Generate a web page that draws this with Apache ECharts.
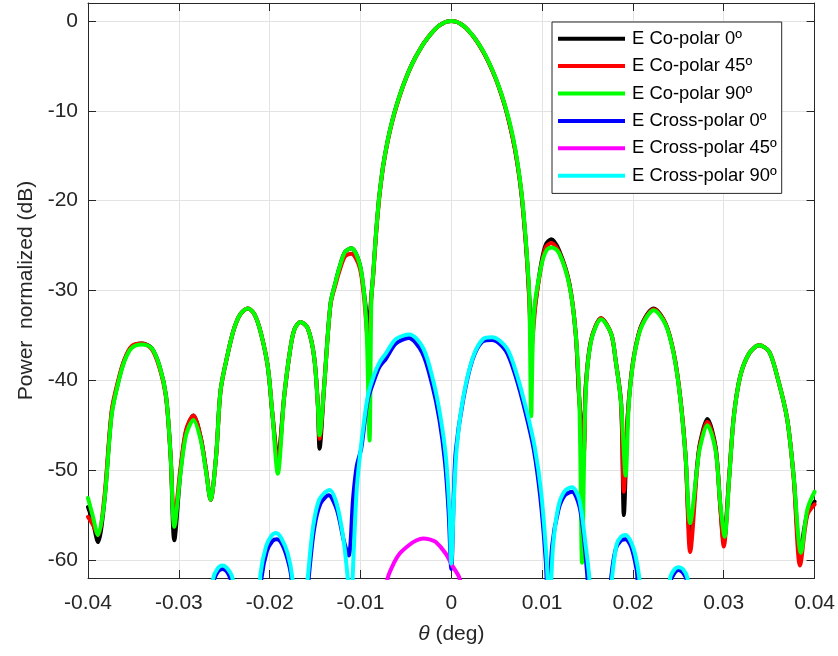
<!DOCTYPE html>
<html>
<head>
<meta charset="UTF-8">
<title>Power normalized</title>
<script src="https://cdn.jsdelivr.net/npm/echarts@6.0.0/dist/echarts.min.js"></script>
<style>
    html, body { margin: 0; padding: 0; background: #fff; }
    #chart { width: 838px; height: 656px; }
</style>
</head>
<body>
<div id="chart"></div>
<script>
// tick values
const yTicks = [0, -10, -20, -30, -40, -50, -60];

const seriesNames = [
    'E Co-polar 0º', 'E Co-polar 45º', 'E Co-polar 90º',
    'E Cross-polar 0º', 'E Cross-polar 45º', 'E Cross-polar 90º'
];
const seriesColors = ['#000000', '#ff0000', '#00ff00', '#0000ff', '#ff00ff', '#00ffff'];

// [theta (deg), power (dB)]
const coPolar0 = [
    [-0.0400, -54.1], [-0.0395, -55.6], [-0.0389, -58.0], [-0.0382, -53.5], [-0.0374, -43.7],
    [-0.0367, -40.3], [-0.0360, -37.8], [-0.0352, -36.3], [-0.0341, -35.9], [-0.0330, -36.4],
    [-0.0321, -38.5], [-0.0314, -41.8], [-0.0309, -48.5], [-0.0305, -57.8], [-0.0298, -50.0],
    [-0.0292, -45.7], [-0.0284, -43.9], [-0.0276, -46.3], [-0.0270, -50.0], [-0.0265, -53.3],
    [-0.0259, -48.5], [-0.0254, -41.1], [-0.0246, -37.0], [-0.0239, -34.2], [-0.0232, -32.6],
    [-0.0224, -32.0], [-0.0217, -32.6], [-0.0210, -34.6], [-0.0202, -38.5], [-0.0197, -43.7],
    [-0.0191, -48.7], [-0.0184, -41.8], [-0.0178, -37.0], [-0.0173, -34.4], [-0.0166, -33.5],
    [-0.0158, -34.2], [-0.0151, -37.4], [-0.0147, -42.6], [-0.0145, -47.6], [-0.0140, -40.7],
    [-0.0133, -31.5], [-0.0127, -28.9], [-0.0123, -27.4], [-0.0117, -25.7], [-0.0110, -25.3],
    [-0.0101, -27.0], [-0.0096, -30.3], [-0.0091, -34.0], [-0.0088, -30.5], [-0.0086, -28.2],
    [-0.0083, -23.8], [-0.0080, -20.2], [-0.0078, -18.4], [-0.0075, -16.1], [-0.0070, -13.3],
    [-0.0065, -11.1], [-0.0060, -9.3], [-0.0055, -7.75], [-0.0050, -6.4], [-0.0045, -5.2],
    [-0.0040, -4.15], [-0.0035, -3.25], [-0.0030, -2.45], [-0.0025, -1.75], [-0.0020, -1.15],
    [-0.0015, -0.65], [-0.0010, -0.3], [-0.0005, -0.08], [0.0000, 0.0], [0.0005, -0.08],
    [0.0010, -0.3], [0.0015, -0.67], [0.0020, -1.2], [0.0025, -1.82], [0.0030, -2.55],
    [0.0035, -3.4], [0.0040, -4.35], [0.0045, -5.45], [0.0050, -6.7], [0.0055, -8.15],
    [0.0060, -9.8], [0.0065, -11.8], [0.0070, -14.2], [0.0074, -16.7], [0.0077, -19.0],
    [0.0079, -21.0], [0.0082, -24.6], [0.0084, -27.5], [0.0086, -31.0], [0.0088, -34.8],
    [0.0093, -31.1], [0.0099, -27.0], [0.0104, -24.9], [0.0110, -24.3],
    [0.0119, -25.6], [0.0130, -29.2], [0.0137, -34.8], [0.0141, -42.2], [0.0146, -47.0],
    [0.0148, -40.7], [0.0154, -35.5], [0.0165, -33.1], [0.0176, -34.8], [0.0181, -37.8],
    [0.0187, -42.6], [0.0190, -55.0], [0.0194, -44.4], [0.0198, -39.6], [0.0203, -36.3],
    [0.0210, -33.7], [0.0223, -32.0], [0.0236, -33.7], [0.0245, -37.0], [0.0252, -41.8],
    [0.0258, -48.5], [0.0263, -57.5], [0.0271, -49.2], [0.0274, -46.9], [0.0282, -44.3],
    [0.0291, -47.4], [0.0296, -53.7], [0.0300, -58.0], [0.0306, -50.7], [0.0311, -44.1],
    [0.0318, -39.6], [0.0328, -37.0], [0.0339, -36.1], [0.0350, -36.8], [0.0360, -40.0],
    [0.0370, -44.4], [0.0377, -50.7], [0.0384, -59.0], [0.0392, -54.8], [0.0400, -53.5]
];

const coPolar45 = [
    [-0.0400, -55.2], [-0.0395, -56.0], [-0.0389, -57.2], [-0.0382, -53.0], [-0.0374, -43.4],
    [-0.0367, -40.1], [-0.0360, -37.7], [-0.0352, -36.2], [-0.0341, -35.9], [-0.0330, -36.5],
    [-0.0321, -38.7], [-0.0314, -42.0], [-0.0309, -48.5], [-0.0305, -55.5], [-0.0298, -49.6],
    [-0.0292, -45.5], [-0.0284, -43.9], [-0.0276, -46.3], [-0.0270, -50.0], [-0.0265, -53.3],
    [-0.0259, -48.5], [-0.0254, -41.1], [-0.0246, -37.0], [-0.0239, -34.2], [-0.0232, -32.6],
    [-0.0224, -32.0], [-0.0217, -32.6], [-0.0210, -34.6], [-0.0202, -38.5], [-0.0197, -43.7],
    [-0.0191, -49.2], [-0.0184, -41.8], [-0.0178, -37.0], [-0.0173, -34.4], [-0.0166, -33.5],
    [-0.0158, -34.2], [-0.0151, -37.4], [-0.0147, -42.6], [-0.0145, -46.5], [-0.0140, -40.7],
    [-0.0133, -31.6], [-0.0127, -29.2], [-0.0123, -27.8], [-0.0117, -26.2], [-0.0110, -25.9],
    [-0.0101, -27.4], [-0.0096, -30.8], [-0.0091, -36.5], [-0.0088, -30.8], [-0.0086, -28.4],
    [-0.0083, -24.0], [-0.0080, -20.4], [-0.0078, -18.5], [-0.0075, -16.2], [-0.0070, -13.4],
    [-0.0065, -11.2], [-0.0060, -9.4], [-0.0055, -7.8], [-0.0050, -6.4], [-0.0045, -5.2],
    [-0.0040, -4.15], [-0.0035, -3.25], [-0.0030, -2.45], [-0.0025, -1.75], [-0.0020, -1.15],
    [-0.0015, -0.65], [-0.0010, -0.3], [-0.0005, -0.08], [0.0000, 0.0], [0.0005, -0.08],
    [0.0010, -0.3], [0.0015, -0.67], [0.0020, -1.2], [0.0025, -1.82], [0.0030, -2.55],
    [0.0035, -3.4], [0.0040, -4.35], [0.0045, -5.45], [0.0050, -6.7], [0.0055, -8.15],
    [0.0060, -9.8], [0.0065, -11.8], [0.0070, -14.2], [0.0074, -16.7], [0.0077, -19.0],
    [0.0079, -21.0], [0.0082, -24.6], [0.0084, -27.6], [0.0086, -31.3], [0.0088, -36.6],
    [0.0093, -31.3], [0.0099, -27.3], [0.0104, -25.2], [0.0110, -24.7],
    [0.0119, -25.8], [0.0130, -29.3], [0.0137, -34.8], [0.0141, -42.2], [0.0146, -48.0],
    [0.0148, -40.9], [0.0154, -35.5], [0.0165, -33.1], [0.0176, -34.8], [0.0181, -37.8],
    [0.0187, -42.6], [0.0190, -52.4], [0.0194, -44.4], [0.0198, -39.6], [0.0203, -36.3],
    [0.0210, -33.8], [0.0223, -32.1], [0.0236, -33.7], [0.0245, -37.0], [0.0252, -41.8],
    [0.0258, -48.5], [0.0263, -59.1], [0.0271, -49.4], [0.0274, -47.1], [0.0282, -44.6],
    [0.0291, -47.6], [0.0296, -53.9], [0.0300, -58.5], [0.0306, -50.7], [0.0311, -44.1],
    [0.0318, -39.6], [0.0328, -37.0], [0.0339, -36.1], [0.0350, -36.8], [0.0360, -40.0],
    [0.0370, -44.4], [0.0377, -50.9], [0.0384, -60.6], [0.0392, -55.0], [0.0400, -53.8]
];

const coPolar90 = [
    [-0.0400, -53.1], [-0.0395, -55.0], [-0.0389, -57.2], [-0.0382, -53.5], [-0.0374, -43.9],
    [-0.0367, -40.4], [-0.0360, -37.9], [-0.0352, -36.4], [-0.0341, -36.0], [-0.0330, -36.4],
    [-0.0321, -38.5], [-0.0314, -41.8], [-0.0309, -48.5], [-0.0305, -56.3], [-0.0298, -50.2],
    [-0.0292, -46.1], [-0.0284, -44.4], [-0.0276, -46.6], [-0.0270, -50.2], [-0.0265, -53.3],
    [-0.0259, -48.5], [-0.0254, -41.1], [-0.0246, -37.0], [-0.0239, -34.2], [-0.0232, -32.6],
    [-0.0224, -32.0], [-0.0217, -32.6], [-0.0210, -34.6], [-0.0202, -38.5], [-0.0197, -43.7],
    [-0.0191, -50.4], [-0.0184, -41.8], [-0.0178, -37.0], [-0.0173, -34.4], [-0.0166, -33.5],
    [-0.0158, -34.2], [-0.0151, -37.4], [-0.0147, -42.6], [-0.0145, -46.1], [-0.0140, -40.7],
    [-0.0133, -31.5], [-0.0127, -28.9], [-0.0123, -27.4], [-0.0117, -25.7], [-0.0110, -25.3],
    [-0.0101, -27.0], [-0.0096, -30.3], [-0.0093, -35.0], [-0.0090, -46.7], [-0.0088, -31.0],
    [-0.0086, -28.2], [-0.0083, -23.8], [-0.0080, -20.2], [-0.0078, -18.4], [-0.0075, -16.1],
    [-0.0070, -13.3], [-0.0065, -11.1], [-0.0060, -9.3], [-0.0055, -7.75], [-0.0050, -6.4],
    [-0.0045, -5.2], [-0.0040, -4.15], [-0.0035, -3.25], [-0.0030, -2.45], [-0.0025, -1.75],
    [-0.0020, -1.15], [-0.0015, -0.65], [-0.0010, -0.3], [-0.0005, -0.08], [0.0000, 0.0],
    [0.0005, -0.08], [0.0010, -0.3], [0.0015, -0.66], [0.0020, -1.18], [0.0025, -1.8],
    [0.0030, -2.52], [0.0035, -3.35], [0.0040, -4.3], [0.0045, -5.4], [0.0050, -6.65],
    [0.0055, -8.05], [0.0060, -9.7], [0.0065, -11.6], [0.0070, -14.0], [0.0074, -16.5],
    [0.0077, -18.8], [0.0079, -20.7], [0.0082, -24.3], [0.0084, -27.2], [0.0086, -30.6],
    [0.0088, -44.0], [0.0091, -32.5], [0.0099, -27.3], [0.0105, -25.5],
    [0.0111, -25.2], [0.0119, -25.9], [0.0130, -29.4], [0.0137, -34.8], [0.0141, -42.2],
    [0.0144, -60.3], [0.0148, -41.5], [0.0154, -35.6], [0.0165, -33.2], [0.0176, -34.8],
    [0.0181, -37.8], [0.0187, -42.6], [0.0192, -50.6], [0.0195, -43.5], [0.0198, -39.8],
    [0.0203, -36.4], [0.0210, -33.9], [0.0223, -32.2], [0.0236, -33.8], [0.0245, -37.1],
    [0.0252, -41.9], [0.0258, -48.5], [0.0263, -55.9], [0.0271, -49.5], [0.0274, -47.4],
    [0.0282, -45.0], [0.0291, -47.8], [0.0296, -53.5], [0.0301, -57.4], [0.0306, -50.9],
    [0.0311, -44.2], [0.0318, -39.6], [0.0328, -37.0], [0.0339, -36.1], [0.0350, -36.8],
    [0.0360, -40.0], [0.0370, -44.4], [0.0377, -50.7], [0.0385, -59.2], [0.0392, -54.4],
    [0.0400, -52.4]
];

const crossPolar0 = [
    [-0.0268, -68.0], [-0.0262, -62.5], [-0.0257, -61.3], [-0.0252, -61.0], [-0.0247, -61.3],
    [-0.0242, -62.5], [-0.0236, -68.0],
    [-0.0214, -68.0], [-0.0209, -62.0], [-0.0203, -59.0], [-0.0197, -57.9], [-0.0192, -57.7],
    [-0.0186, -58.3], [-0.0180, -60.0], [-0.0176, -62.0], [-0.0172, -68.0],
    [-0.0162, -68.0], [-0.0157, -62.0], [-0.0151, -56.5], [-0.0144, -53.7], [-0.0135, -52.8],
    [-0.0126, -54.4], [-0.0118, -58.0], [-0.0113, -59.5], [-0.0108, -53.0], [-0.0104, -49.5],
    [-0.0099, -47.5], [-0.0092, -42.2], [-0.0085, -40.0], [-0.0079, -38.5], [-0.0072, -37.6],
    [-0.0061, -35.9], [-0.0047, -35.3], [-0.0032, -36.9], [-0.0021, -40.5], [-0.0013, -44.4],
    [-0.0007, -49.0], [-0.0003, -54.5], [0.0000, -61.0], [0.0003, -52.0], [0.0005, -47.8],
    [0.0013, -42.2], [0.0023, -37.8], [0.0034, -35.7], [0.0045, -35.5], [0.0060, -36.7],
    [0.0071, -39.6], [0.0082, -43.7], [0.0091, -47.8], [0.0098, -53.0], [0.0104, -60.0],
    [0.0107, -66.0], [0.0111, -58.5], [0.0118, -54.4], [0.0125, -52.8], [0.0133, -52.4],
    [0.0141, -54.0], [0.0146, -57.5], [0.0150, -62.0], [0.0155, -68.0],
    [0.0171, -68.0], [0.0176, -62.0], [0.0181, -58.8], [0.0187, -57.8], [0.0192, -57.7],
    [0.0198, -58.5], [0.0204, -61.0], [0.0208, -64.0],
    [0.0236, -68.0], [0.0241, -62.5], [0.0246, -61.4], [0.0250, -61.1], [0.0255, -61.4],
    [0.0260, -62.5], [0.0265, -68.0]
];

const crossPolar45 = [
    [-0.0076, -66.0], [-0.0070, -62.0], [-0.0063, -60.3], [-0.0057, -59.3], [-0.0046, -58.3],
    [-0.0038, -57.8], [-0.0031, -57.6], [-0.0024, -57.7], [-0.0017, -58.0], [-0.0006, -59.3],
    [0.0001, -60.6], [0.0009, -62.0], [0.0014, -65.0]
];

const crossPolar90 = [
    [-0.0268, -68.0], [-0.0262, -62.0], [-0.0257, -60.9], [-0.0252, -60.6], [-0.0247, -60.9],
    [-0.0241, -62.0], [-0.0235, -68.0],
    [-0.0215, -68.0], [-0.0210, -61.5], [-0.0204, -58.5], [-0.0198, -57.3], [-0.0193, -57.0],
    [-0.0187, -57.6], [-0.0180, -59.3], [-0.0175, -62.0], [-0.0170, -68.0],
    [-0.0163, -68.0], [-0.0158, -62.0], [-0.0152, -56.2], [-0.0145, -53.2], [-0.0134, -52.2],
    [-0.0126, -53.8], [-0.0119, -57.5], [-0.0114, -62.0], [-0.0111, -66.0], [-0.0107, -58.0],
    [-0.0104, -52.0], [-0.0099, -47.0], [-0.0092, -41.8], [-0.0085, -39.4], [-0.0079, -38.0],
    [-0.0072, -37.0], [-0.0061, -35.4], [-0.0046, -34.9], [-0.0031, -36.4], [-0.0020, -40.0],
    [-0.0012, -44.0], [-0.0006, -48.5], [-0.0002, -54.5], [0.0000, -60.4], [0.0003, -53.0],
    [0.0006, -47.5], [0.0013, -42.0], [0.0024, -37.4], [0.0035, -35.4], [0.0045, -35.2],
    [0.0061, -36.4], [0.0072, -39.3], [0.0083, -43.4], [0.0092, -47.5], [0.0099, -52.5],
    [0.0105, -60.0], [0.0108, -66.0], [0.0112, -58.5], [0.0118, -54.0], [0.0125, -52.3],
    [0.0133, -51.9], [0.0141, -53.3], [0.0148, -58.4], [0.0152, -62.0], [0.0156, -68.0],
    [0.0172, -68.0], [0.0177, -62.0], [0.0182, -58.3], [0.0187, -57.4], [0.0192, -57.2],
    [0.0198, -58.0], [0.0203, -59.6], [0.0207, -62.0], [0.0212, -68.0],
    [0.0237, -68.0], [0.0241, -62.0], [0.0246, -61.0], [0.0250, -60.8], [0.0255, -61.0],
    [0.0260, -62.0], [0.0265, -68.0]
];

const seriesData = [coPolar0, coPolar45, coPolar90, crossPolar0, crossPolar45, crossPolar90];

const axisColor = '#262626';
const gridColor = '#e3e3e3';
const font = '"Liberation Sans", Arial, Helvetica, sans-serif';

const chart = echarts.init(document.getElementById('chart'));

const baseX = {
    type: 'value', min: -0.04, max: 0.04, interval: 0.01,
    axisLine: { show: true, onZero: false, lineStyle: { color: axisColor, width: 1 } },
    axisTick: { show: true, inside: true, length: 8, lineStyle: { color: axisColor } }
};
const baseY = {
    type: 'value', min: -62, max: 2,
    axisLine: { show: true, onZero: false, lineStyle: { color: axisColor, width: 1 } },
    axisTick: { show: true, inside: true, length: 8, customValues: yTicks, lineStyle: { color: axisColor } }
};

const option = {
    animation: false,
    backgroundColor: '#ffffff',
    grid: { left: 88, right: 22, top: 3, bottom: 78 },
    legend: {
        data: seriesNames,
        orient: 'vertical',
        left: 552, top: 22,
        backgroundColor: '#ffffff',
        borderColor: axisColor, borderWidth: 1, borderRadius: 0,
        padding: [3, 5, 4, 6],
        itemGap: 0,
        itemWidth: 67, itemHeight: 4,
        icon: 'rect',
        textStyle: { fontFamily: font, fontSize: 18.4, color: '#000', lineHeight: 27.4, padding: [0, 0, 0, 2] }
    },
    xAxis: [
        Object.assign({}, baseX, {
            position: 'bottom',
            name: '{i|θ} (deg)',
            nameLocation: 'middle', nameGap: 46,
            nameTextStyle: {
                fontFamily: font, fontSize: 21, color: axisColor,
                rich: { i: { fontFamily: font, fontSize: 21, fontStyle: 'italic', color: axisColor } }
            },
            axisLabel: {
                fontFamily: font, fontSize: 21, color: axisColor, margin: 15,
                formatter: v => String(+v.toFixed(2))
            },
            splitLine: { show: true, lineStyle: { color: gridColor, width: 1 } }
        }),
        Object.assign({}, baseX, {
            position: 'top',
            axisLabel: { show: false },
            splitLine: { show: false }
        })
    ],
    yAxis: [
        Object.assign({}, baseY, {
            position: 'left',
            name: 'Power  normalized (dB)',
            nameLocation: 'middle', nameGap: 47,
            nameTextStyle: { fontFamily: font, fontSize: 21, color: axisColor },
            axisLabel: {
                fontFamily: font, fontSize: 21, color: axisColor, margin: 10,
                customValues: yTicks
            },
            splitLine: { show: true, lineStyle: { color: gridColor, width: 1 } }
        }),
        Object.assign({}, baseY, {
            position: 'right',
            axisLabel: { show: false },
            splitLine: { show: false }
        })
    ],
    series: seriesData.map((d, i) => ({
        name: seriesNames[i],
        type: 'line',
        xAxisIndex: 0,
        yAxisIndex: 0,
        data: d,
        symbol: 'none',
        smooth: 0.3,
        clip: true,
        color: seriesColors[i],
        lineStyle: { color: seriesColors[i], width: 4, join: 'round', cap: 'round' },
        z: 2 + i
    }))
};

chart.setOption(option);
</script>
</body>
</html>
